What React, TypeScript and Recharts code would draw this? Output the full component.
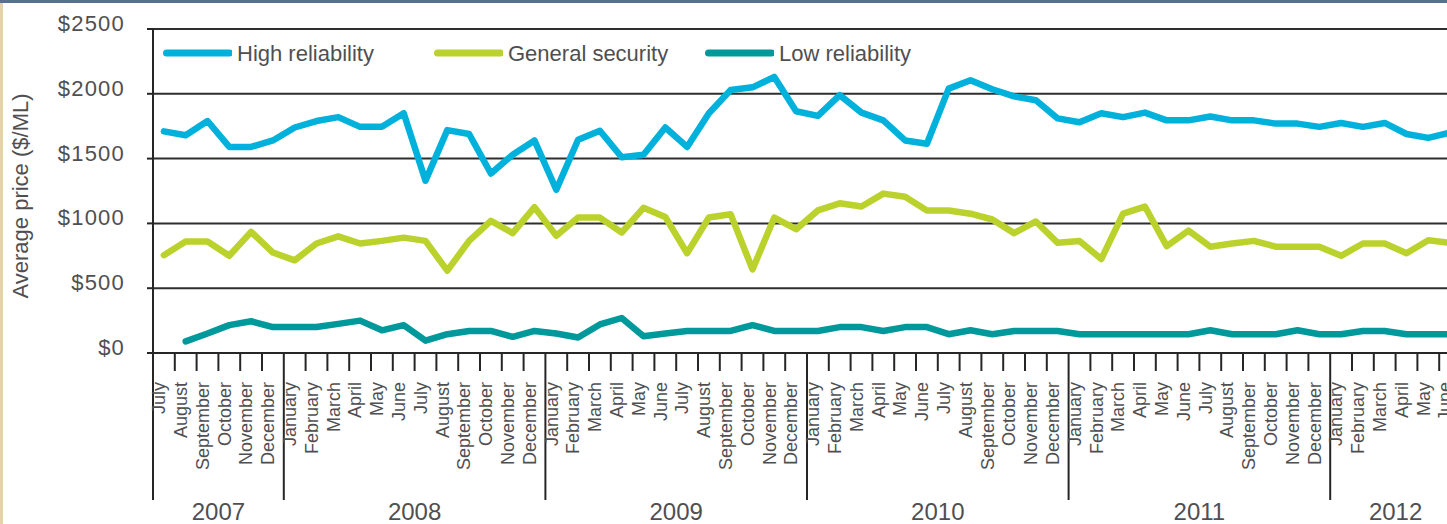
import React from 'react';
import { LineChart, Line, XAxis, YAxis, CartesianGrid, Legend } from 'recharts';

// ---------- data ----------
const MONTH_NAMES = [
  'January', 'February', 'March', 'April', 'May', 'June',
  'July', 'August', 'September', 'October', 'November', 'December',
];
const START_YEAR = 2007;
const START_MONTH = 6; // July (0-based)

// Jul 2007 .. Jun 2012, average price ($/ML)
const highReliability = [
  1710, 1680, 1790, 1590, 1590, 1640,
  1740, 1790, 1820, 1745, 1745, 1850, 1330, 1720, 1690, 1385, 1530, 1640,
  1260, 1645, 1715, 1510, 1530, 1740, 1590, 1850, 2030, 2050, 2130, 1865,
  1830, 1990, 1855, 1795, 1640, 1615, 2040, 2105, 2035, 1980, 1950, 1810,
  1780, 1850, 1820, 1855, 1795, 1795, 1825, 1795, 1795, 1770, 1770, 1745,
  1775, 1745, 1775, 1690, 1660, 1700,
];
const generalSecurity = [
  755, 860, 860, 750, 935, 775,
  715, 845, 900, 845, 865, 890, 865, 635, 865, 1020, 925, 1125,
  905, 1045, 1045, 930, 1120, 1050, 770, 1045, 1070, 645, 1045, 955,
  1100, 1155, 1130, 1230, 1205, 1100, 1100, 1075, 1030, 925, 1015, 850,
  865, 725, 1075, 1130, 825, 945, 820, 845, 865, 820, 820, 820,
  750, 845, 845, 770, 870, 850,
];
const lowReliability: (number | null)[] = [
  null, 90, 150, 215, 245, 200,
  200, 200, 225, 250, 175, 215, 95, 145, 170, 170, 125, 170,
  150, 120, 220, 270, 130, 150, 170, 170, 170, 215, 170, 170,
  170, 200, 200, 170, 200, 200, 145, 175, 145, 170, 170, 170,
  145, 145, 145, 145, 145, 145, 175, 145, 145, 145, 175, 145,
  145, 170, 170, 145, 145, 145,
];
const yTicks = [0, 500, 1000, 1500, 2000, 2500];

const SERIES = [
  { key: 'high', name: 'High reliability', color: '#00B1DC' },
  { key: 'general', name: 'General security', color: '#BCD22C' },
  { key: 'low', name: 'Low reliability', color: '#00999B' },
];

const data = highReliability.map((_, i) => {
  const m = (START_MONTH + i) % 12;
  const year = START_YEAR + Math.floor((START_MONTH + i) / 12);
  return {
    period: `${MONTH_NAMES[m]} ${year}`,
    month: MONTH_NAMES[m],
    monthIdx: m,
    year,
    high: highReliability[i],
    general: generalSecurity[i],
    low: lowReliability[i],
  };
});

// ---------- layout ----------
const CHART_W = 1480;
const CHART_H = 524;
const Y_AXIS_W = 153;
const PLOT_W = 1308;
const BAND = PLOT_W / data.length;
const FONT = '"Liberation Sans", Arial, Helvetica, sans-serif';
const TEXT = '#4f4f52';
const AXIS = '#262626';

const MonthTick = (props: any) => {
  const { x, y, payload, index } = props;
  const i = payload && typeof payload.index === 'number' ? payload.index : index;
  const d = data[i];
  if (!d) return null;
  const left = x - BAND / 2;
  const yearStart = i === 0 || d.monthIdx === 0;
  const yearCount = data.filter((e) => e.year === d.year).length;
  const lx = x - 5;
  const ly = y + 29;
  return (
    <g>
      <line x1={left} x2={left} y1={y} y2={y + (yearStart ? 147 : 18)} stroke={AXIS} strokeWidth={2} />
      <text
        x={lx}
        y={ly}
        dy="0.35em"
        transform={`rotate(-90, ${lx}, ${ly})`}
        textAnchor="end"
        fontSize={18}
        fontFamily={FONT}
        fill={TEXT}
      >
        {d.month}
      </text>
      {yearStart && (
        <text
          x={left + (yearCount * BAND) / 2}
          y={y + 167}
          textAnchor="middle"
          fontSize={24}
          fontFamily={FONT}
          fill={TEXT}
        >
          {d.year}
        </text>
      )}
    </g>
  );
};

const YTick = (props: any) => {
  const { x, y, payload } = props;
  return (
    <text x={x} y={y} dy={2} textAnchor="end" fontSize={22} letterSpacing={1.2} fontFamily={FONT} fill={TEXT}>
      {`$${payload.value}`}
    </text>
  );
};

const YTitle = (props: any) => {
  const vb = props.viewBox || { x: 0, y: 29, height: 324 };
  const tx = 28;
  const ty = vb.y + vb.height / 2 + 5;
  return (
    <text
      x={tx}
      y={ty}
      transform={`rotate(-90, ${tx}, ${ty})`}
      textAnchor="middle"
      fontSize={22}
      fontFamily={FONT}
      fill={TEXT}
    >
      Average price ($/ML)
    </text>
  );
};

const renderLegend = () => (
  <div style={{ display: 'flex', fontFamily: FONT, fontSize: 22, color: TEXT, height: 30, alignItems: 'center' }}>
    {SERIES.map((s) => (
      <div key={s.key} style={{ width: 271, display: 'flex', alignItems: 'center', flex: 'none' }}>
        <svg width={72} height={14} style={{ display: 'block', flex: 'none' }}>
          <line x1={6.5} x2={69.5} y1={6} y2={6} stroke={s.color} strokeWidth={7} strokeLinecap="round" />
        </svg>
        <span style={{ marginLeft: 5, whiteSpace: 'nowrap' }}>{s.name}</span>
      </div>
    ))}
  </div>
);

export default function App() {
  return (
    <div
      style={{
        position: 'absolute',
        left: 0,
        top: 0,
        width: 1447,
        height: 524,
        overflow: 'hidden',
        background: '#ffffff',
      }}
    >
      <LineChart
        width={CHART_W}
        height={CHART_H}
        data={data}
        margin={{ top: 29, right: CHART_W - Y_AXIS_W - PLOT_W, bottom: 0, left: 0 }}
      >
        <CartesianGrid vertical={false} stroke="#2e2e2e" strokeWidth={2} />
        <XAxis
          dataKey="period"
          type="category"
          height={171}
          interval={0}
          padding={{ left: BAND / 2, right: BAND / 2 }}
          axisLine={{ stroke: AXIS, strokeWidth: 2 }}
          tickLine={false}
          tickSize={0}
          tickMargin={0}
          tick={<MonthTick />}
        />
        <YAxis
          width={Y_AXIS_W}
          domain={[0, 2500]}
          ticks={yTicks}
          interval={0}
          axisLine={{ stroke: AXIS, strokeWidth: 2 }}
          tickLine={{ stroke: AXIS, strokeWidth: 2 }}
          tickSize={6}
          tickMargin={22}
          tick={<YTick />}
          label={<YTitle />}
        />
        <Legend
          layout="horizontal"
          verticalAlign="middle"
          align="center"
          wrapperStyle={{ top: 39, left: 160, width: 900, height: 30 }}
          content={renderLegend}
        />
        {SERIES.map((s) => (
          <Line
            key={s.key}
            type="linear"
            dataKey={s.key}
            name={s.name}
            stroke={s.color}
            strokeWidth={6.5}
            strokeLinejoin="round"
            strokeLinecap="round"
            dot={false}
            activeDot={false}
            connectNulls={false}
            isAnimationActive={false}
          />
        ))}
      </LineChart>
      <div style={{ position: 'absolute', left: 0, top: 0, width: 1447, height: 3, background: '#56708f' }} />
      <div style={{ position: 'absolute', left: 0, top: 3, width: 3, height: 521, background: '#e3d3a6' }} />
    </div>
  );
}
